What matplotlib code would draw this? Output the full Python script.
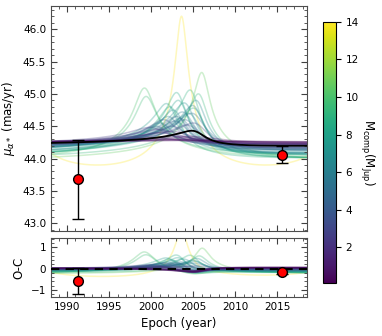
import matplotlib
matplotlib.use("Agg")
import matplotlib.pyplot as plt
import numpy as np

# measurements: Hipparcos and Gaia proper motion in RA
obs_epoch = [1991.25, 2015.5]
obs_pm = [43.68, 44.06]
obs_err = [0.61, 0.13]

# orbit draws: companion mass, epoch of the peak,
# period, eccentricity, omega, level far from periastron, peak value
mass  = [14.0, 10.0, 9.6, 10.6, 9.0, 8.5, 7.6, 7.0, 6.6, 8.0, 7.3, 6.8, 6.1, 5.6,
         5.0, 4.6, 4.1, 3.6, 3.1, 4.3, 2.6, 2.1, 1.6, 1.1, 0.6, 0.9, 1.3, 0.4, 8.8, 5.3, 3.8,
         6.3, 5.8, 4.8, 3.3, 2.3, 1.8, 0.7, 0.3, 7.8, 9.3]
t_pk  = [2003.6, 1999.2, 1999.4, 2006.0, 2004.6, 2003.0, 2001.8, 2003.9, 2005.3, 2005.0, 2002.6,
         2004.4, 2002.0, 2003.4, 2001.0, 2004.0, 2000.5, 2002.5, 2005.0, 2003.0, 1999.8, 2001.0,
         2003.0, 2004.0, 2002.0, 2005.0, 2000.0, 2003.5, 2002.2, 2004.8, 2001.5,
         2004.9, 2003.7, 2002.8, 2004.2, 2000.8, 2002.3, 2004.5, 2001.5, 2003.2, 2005.6]
per   = [20, 55, 55, 55, 55, 55, 55, 55, 55, 55, 55, 55, 55, 55,
         55, 55, 55, 55, 55, 55, 60, 60, 60, 60, 60, 60, 60, 60, 55, 55, 55,
         55, 55, 55, 55, 60, 60, 60, 60, 55, 55]
ecc   = [0.65, 0.74, 0.74, 0.78, 0.75, 0.75, 0.73, 0.73, 0.75, 0.72, 0.73, 0.72, 0.72, 0.72,
         0.7, 0.72, 0.7, 0.7, 0.7, 0.72, 0.65, 0.65, 0.65, 0.6, 0.55, 0.6, 0.6, 0.55, 0.73, 0.7, 0.7,
         0.74, 0.72, 0.7, 0.7, 0.62, 0.62, 0.55, 0.5, 0.74, 0.76]
omega = [0.0, 0.0, 0.0, 0.1, 0.3, 0.2, 0.3, 0.4, 0.3, 0.4, 0.3, 0.5, 0.3, 0.4,
         0.3, 0.4, 0.3, 0.4, 0.5, 0.4, 0.3, 0.4, 0.5, 0.4, 0.3, 0.5, 0.4, 0.3, 0.3, 0.4, 0.3,
         0.4, 0.3, 0.3, 0.5, 0.3, 0.4, 0.5, 0.3, 0.3, 0.2]
base  = [43.9, 44.0, 44.04, 43.99, 44.04, 44.07, 44.1, 44.11, 44.09, 44.05, 44.12, 44.13, 44.15, 44.15,
         44.17, 44.18, 44.2, 44.2, 44.19, 44.16, 44.22, 44.23, 44.23, 44.24, 44.25, 44.24, 44.23, 44.26, 44.03, 44.16, 44.2,
         44.12, 44.14, 44.17, 44.19, 44.22, 44.23, 44.25, 44.26, 44.08, 44.02]
peak  = [46.2, 45.09, 44.96, 45.33, 45.06, 45.02, 44.85, 44.86, 44.9, 44.78, 44.75, 44.7, 44.65, 44.62,
         44.55, 44.6, 44.5, 44.5, 44.55, 44.65, 44.48, 44.4, 44.35, 44.32, 44.3, 44.3, 44.33, 44.28, 44.8, 44.7, 44.6,
         44.82, 44.72, 44.58, 44.52, 44.45, 44.42, 44.34, 44.29, 44.9, 45.0]

# best fit orbit
best = dict(t_pk=2004.8, per=60, ecc=0.72, omega=0.55, base=44.215, peak=44.43)


def kepler_curve(t, t_pk, per, ecc, omega, base, peak):
    # periastron sits where nu = 0, the peak where nu = -omega
    E0 = 2 * np.arctan(np.sqrt((1 - ecc) / (1 + ecc)) * np.tan(-omega / 2))
    M0 = E0 - ecc * np.sin(E0)
    M = 2 * np.pi * (t - t_pk) / per + M0
    M = np.mod(M + np.pi, 2 * np.pi) - np.pi
    E = M.copy()
    for _ in range(50):
        E = E - (E - ecc * np.sin(E) - M) / (1 - ecc * np.cos(E))
    nu = 2 * np.arctan2(np.sqrt(1 + ecc) * np.sin(E / 2), np.sqrt(1 - ecc) * np.cos(E / 2))
    shape = (np.cos(nu + omega) + np.cos(omega)) / (1 + np.cos(omega))
    return base + (peak - base) * shape


t = np.linspace(1985, 2021, 1500)
fit = kepler_curve(t, **best)

fig = plt.figure(figsize=(3.82, 3.36), dpi=100)
ax = fig.add_axes([0.1335, 0.3125, 0.670, 0.670])
ax2 = fig.add_axes([0.1335, 0.116, 0.670, 0.1756])
cax = fig.add_axes([0.8455, 0.158, 0.034, 0.777])

cmap = plt.get_cmap('viridis')
norm = matplotlib.colors.Normalize(vmin=0.1, vmax=14)

order = np.argsort(mass)[::-1]
for i in order:
    y = kepler_curve(t, t_pk[i], per[i], ecc[i], omega[i], base[i], peak[i])
    c = cmap(norm(mass[i]))
    ax.plot(t, y, color=c, alpha=0.3, lw=1.1, zorder=1)
    ax2.plot(t, y - fit, color=c, alpha=0.3, lw=1.1, zorder=1)

ax.plot(t, fit, color='k', lw=1.3, zorder=3)
ax2.axhline(0, color='k', ls=(0, (4, 3)), lw=1.5, zorder=3)

fit_obs = kepler_curve(np.array(obs_epoch), **best)
ax.errorbar(obs_epoch, obs_pm, yerr=obs_err, fmt='o', color='k', mfc='red', mec='k',
            ms=7, capsize=4, elinewidth=1, zorder=5)
ax2.errorbar(obs_epoch, np.array(obs_pm) - fit_obs, yerr=obs_err, fmt='o', color='k',
             mfc='red', mec='k', ms=7, capsize=4, elinewidth=1, zorder=5)

for a in (ax, ax2):
    a.set_xlim(1988.1, 2018.5)
    a.minorticks_on()
    a.tick_params(which='both', direction='in', top=True, right=True, labelsize=7.5, colors='0.25',
                  labelcolor='k')
    a.tick_params(which='major', length=4)
    a.tick_params(which='minor', length=2)
    for s in a.spines.values():
        s.set_color('0.3')

ax.set_ylim(42.88, 46.36)
ax.set_yticks([43.0, 43.5, 44.0, 44.5, 45.0, 45.5, 46.0])
ax.set_xticklabels([])
ax.set_ylabel(r'$\mu_{\alpha*}$ (mas/yr)', fontsize=8.5)

ax2.set_ylim(-1.33, 1.44)
ax2.set_yticks([-1, 0, 1])
ax2.set_xticks([1990, 1995, 2000, 2005, 2010, 2015])
ax2.set_ylabel('O-C', fontsize=8.5)
ax2.set_xlabel('Epoch (year)', fontsize=8.5)

sm = matplotlib.cm.ScalarMappable(norm=norm, cmap=cmap)
cb = fig.colorbar(sm, cax=cax)
cb.set_ticks([2, 4, 6, 8, 10, 12, 14])
cb.ax.tick_params(labelsize=7.5)
cb.set_label(r'$\mathrm{M_{comp} (M_{Jup})}$', rotation=270, labelpad=12, fontsize=8.5)

fig.savefig('out.png', dpi=100)
